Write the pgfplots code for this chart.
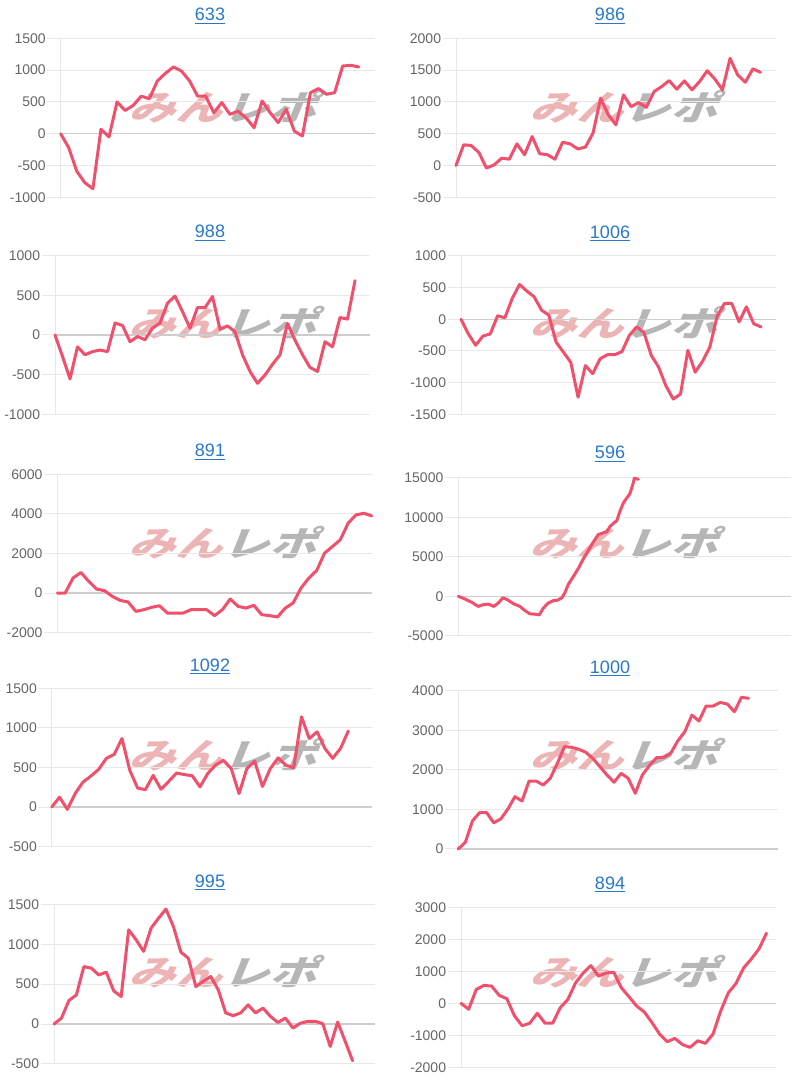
\documentclass[border=0pt]{standalone}
\usepackage{fontspec}
\setmainfont{Liberation Sans}
\newfontfamily\cjk{Noto Sans CJK JP}
\usepackage{pgfplots}
\pgfplotsset{compat=1.18}
\definecolor{linec}{RGB}{240,80,108}
\definecolor{gridc}{RGB}{232,232,232}
\definecolor{zeroc}{RGB}{205,205,205}
\definecolor{labc}{RGB}{102,102,102}
\definecolor{titc}{RGB}{40,120,205}
\definecolor{wmred}{RGB}{236,180,180}
\definecolor{wmgray}{RGB}{182,182,182}
\pgfplotsset{
  panel/.style={
    scale only axis, anchor=south west, xmin=0,
    xtick=\empty, ytick pos=left,
    ymajorgrids, grid style={draw=gridc, line width=0.75pt},
    axis line style={draw=none},
    tick align=outside, major tick length=10pt,
    ytick style={draw=gridc, line width=0.75pt},
    yticklabel style={font=\fontsize{10.5}{12}\selectfont, text=labc, inner sep=1pt},
    /pgf/number format/assume math mode=true,
    /pgf/number format/1000 sep={},
    scaled y ticks=false,
    extra y ticks={0}, extra y tick labels={},
    extra y tick style={grid style={draw=zeroc, line width=0.9pt}},
    clip=false,
  },
  ln/.style={color=linec, line width=2.25pt, line join=round, line cap=round, mark=none},
}
\newcommand{\axleft}{\draw[gridc, line width=0.75pt] (rel axis cs:0,0) -- (rel axis cs:0,1);}
\newcommand{\wm}[2]{\node[font=\cjk\bfseries\fontsize{26}{26}\selectfont, xscale=1.35, xslant=0.3, inner sep=0pt] at (#1,#2) {\textcolor{wmred}{みん}\textcolor{wmgray}{レポ}};}
\newcommand{\ttl}[3]{\node[anchor=base, font=\fontsize{13.5}{15}\selectfont, text=titc, inner sep=0pt] at (#1,#2) {\underline{#3}};}
\begin{document}
\begin{tikzpicture}
\fill[white] (0,0) rectangle (600pt,810pt);
\path[use as bounding box] (0,0) rectangle (600pt,810pt);
% watermarks
\wm{171pt}{729.75pt}\wm{471.75pt}{729.75pt}
\wm{171pt}{567.75pt}\wm{471.75pt}{567.75pt}
\wm{171pt}{402.75pt}\wm{471.75pt}{402.75pt}
\wm{171pt}{243.75pt}\wm{471.75pt}{243.75pt}
\wm{171pt}{81pt}\wm{471.75pt}{81pt}
% titles
\ttl{157.5pt}{794.4pt}{633}\ttl{457.5pt}{794.4pt}{986}
\ttl{157.5pt}{631.65pt}{988}\ttl{457.5pt}{631.3pt}{1006}
\ttl{157.5pt}{467.25pt}{891}\ttl{457.5pt}{465.75pt}{596}
\ttl{157.5pt}{306.5pt}{1092}\ttl{457.5pt}{305pt}{1000}
\ttl{157.5pt}{144.5pt}{995}\ttl{457.5pt}{143pt}{894}

% 633
\begin{axis}[panel, at={(45.5pt,662pt)}, width=235.7pt, height=119.25pt,
  xmax=39, ymin=-1000, ymax=1500, ytick={-1000,-500,0,500,1000,1500}]
\axleft
\addplot[ln] coordinates {(0,0)(1,-220)(2,-590)(3,-770)(4,-865)(5,70)(6,-50)(7,500)(8,365)(9,445)(10,590)(11,550)(12,830)(13,950)(14,1050)(15,985)(16,830)(17,590)(18,590)(19,330)(20,490)(21,305)(22,355)(23,250)(24,95)(25,515)(26,330)(27,175)(28,385)(29,40)(30,-35)(31,645)(32,710)(33,620)(34,645)(35,1065)(36,1075)(37,1050)};
\end{axis}

% 986
\begin{axis}[panel, at={(342pt,662pt)}, width=239.8pt, height=119.25pt,
  xmax=42, ymin=-500, ymax=2000, ytick={-500,0,500,1000,1500,2000}]
\axleft
\addplot[ln] coordinates {(0,0)(1,325)(2,315)(3,205)(4,-40)(5,10)(6,115)(7,100)(8,340)(9,170)(10,455)(11,185)(12,170)(13,100)(14,365)(15,340)(16,260)(17,290)(18,510)(19,1060)(20,800)(21,640)(22,1110)(23,925)(24,990)(25,915)(26,1160)(27,1240)(28,1335)(29,1200)(30,1330)(31,1190)(32,1320)(33,1490)(34,1360)(35,1190)(36,1685)(37,1425)(38,1310)(39,1520)(40,1465)};
\end{axis}

% 988
\begin{axis}[panel, at={(41.25pt,499.3pt)}, width=236.25pt, height=118.95pt,
  xmax=42, ymin=-1000, ymax=1000, ytick={-1000,-500,0,500,1000}]
\axleft
\addplot[ln] coordinates {(0,0)(1,-270)(2,-555)(3,-150)(4,-250)(5,-210)(6,-190)(7,-210)(8,150)(9,120)(10,-85)(11,-20)(12,-60)(13,85)(14,150)(15,400)(16,490)(17,295)(18,85)(19,345)(20,345)(21,485)(22,70)(23,115)(24,40)(25,-250)(26,-460)(27,-610)(28,-505)(29,-370)(30,-250)(31,145)(32,-65)(33,-250)(34,-410)(35,-460)(36,-85)(37,-150)(38,220)(39,200)(40,685)};
\end{axis}

% 1006
\begin{axis}[panel, at={(345.75pt,499.3pt)}, width=236pt, height=118.7pt,
  xmax=43, ymin=-1500, ymax=1000, ytick={-1500,-1000,-500,0,500,1000}]
\axleft
\addplot[ln] coordinates {(0,0)(1,-230)(2,-410)(3,-265)(4,-230)(5,55)(6,25)(7,330)(8,550)(9,445)(10,355)(11,145)(12,65)(13,-360)(14,-520)(15,-680)(16,-1230)(17,-730)(18,-860)(19,-625)(20,-560)(21,-560)(22,-510)(23,-255)(24,-120)(25,-210)(26,-570)(27,-755)(28,-1050)(29,-1260)(30,-1180)(31,-490)(32,-835)(33,-665)(34,-440)(35,50)(36,250)(37,250)(38,-40)(39,195)(40,-70)(41,-120)};
\end{axis}

% 891
\begin{axis}[panel, at={(43pt,335.5pt)}, width=235.8pt, height=118.8pt,
  xmax=40, ymin=-2000, ymax=6000, ytick={-2000,0,2000,4000,6000}]
\axleft
\addplot[ln] coordinates {(0,0)(1,0)(2,760)(3,1040)(4,590)(5,200)(6,120)(7,-170)(8,-370)(9,-450)(10,-925)(11,-840)(12,-720)(13,-640)(14,-1010)(15,-1010)(16,-1010)(17,-840)(18,-840)(19,-840)(20,-1140)(21,-840)(22,-300)(23,-670)(24,-760)(25,-620)(26,-1090)(27,-1140)(28,-1210)(29,-760)(30,-500)(31,250)(32,760)(33,1140)(34,2020)(35,2350)(36,2690)(37,3530)(38,3950)(39,4030)(40,3900)};
\end{axis}

% 596
\begin{axis}[panel, at={(343.7pt,333.2pt)}, width=249.5pt, height=118.5pt,
  xmax=66.5, ymin=-5000, ymax=15000, ytick={-5000,0,5000,10000,15000}]
\axleft
\addplot[ln] coordinates {(0,0)(1.3,-340)(2.7,-770)(4,-1290)(5,-1070)(6,-990)(7.1,-1290)(8,-860)(8.9,-210)(9.8,-430)(11,-940)(12.3,-1290)(13.3,-1800)(14.3,-2230)(15.3,-2270)(16.2,-2360)(17,-1500)(18,-860)(19,-560)(19.8,-515)(20.7,-210)(21.3,430)(22,1500)(23,2490)(24,3520)(25,4720)(26,5790)(27,6870)(28,7810)(29,8030)(29.7,8150)(30.3,8800)(31,9230)(31.7,9570)(32.3,10730)(33,11800)(33.7,12450)(34.3,12960)(34.9,14160)(35.2,14940)(36,14800)};
\end{axis}

% 1092
\begin{axis}[panel, at={(38.8pt,175pt)}, width=240pt, height=118.8pt,
  xmax=41, ymin=-500, ymax=1500, ytick={-500,0,500,1000,1500}]
\axleft
\addplot[ln] coordinates {(0,0)(1,125)(2,-30)(3,170)(4,315)(5,390)(6,475)(7,615)(8,665)(9,865)(10,465)(11,240)(12,220)(13,400)(14,225)(15,325)(16,430)(17,410)(18,395)(19,255)(20,425)(21,530)(22,590)(23,485)(24,170)(25,485)(26,580)(27,260)(28,485)(29,620)(30,530)(31,495)(32,1140)(33,865)(34,950)(35,740)(36,615)(37,740)(38,960)};
\end{axis}

% 1000
\begin{axis}[panel, at={(343.7pt,173.25pt)}, width=240pt, height=118.5pt,
  xmax=45.2, ymin=0, ymax=4000, ytick={0,1000,2000,3000,4000}]
\axleft
\addplot[ln] coordinates {(0,0)(1,170)(2,710)(3,920)(4,920)(5,665)(6,760)(7,1010)(8,1325)(9,1215)(10,1720)(11,1720)(12,1620)(13,1790)(14,2170)(15,2590)(16,2575)(17,2525)(18,2450)(19,2295)(20,2085)(21,1875)(22,1690)(23,1915)(24,1790)(25,1410)(26,1875)(27,2110)(28,2310)(29,2320)(30,2420)(31,2735)(32,2970)(33,3390)(34,3240)(35,3620)(36,3620)(37,3710)(38,3670)(39,3475)(40,3840)(41,3815)};
\end{axis}

% 995
\begin{axis}[panel, at={(40.5pt,12pt)}, width=240.75pt, height=119.8pt,
  xmax=43, ymin=-500, ymax=1500, ytick={-500,0,500,1000,1500}]
\axleft
\addplot[ln] coordinates {(0,0)(1,75)(2,295)(3,365)(4,720)(5,700)(6,615)(7,650)(8,415)(9,345)(10,1180)(11,1055)(12,910)(13,1200)(14,1325)(15,1440)(16,1220)(17,900)(18,825)(19,470)(20,535)(21,595)(22,430)(23,140)(24,105)(25,140)(26,240)(27,140)(28,200)(29,95)(30,20)(31,75)(32,-50)(33,10)(34,35)(35,35)(36,5)(37,-280)(38,25)(39,-215)(40,-460)};
\end{axis}

% 894
\begin{axis}[panel, at={(345.75pt,9.5pt)}, width=236pt, height=120pt,
  xmax=41.2, ymin=-2000, ymax=3000, ytick={-2000,-1000,0,1000,2000,3000}]
\axleft
\addplot[ln] coordinates {(0,0)(1,-185)(2,435)(3,560)(4,540)(5,250)(6,145)(7,-390)(8,-700)(9,-620)(10,-310)(11,-620)(12,-620)(13,-135)(14,125)(15,640)(16,950)(17,1180)(18,850)(19,950)(20,970)(21,485)(22,205)(23,-85)(24,-270)(25,-600)(26,-960)(27,-1200)(28,-1095)(29,-1290)(30,-1375)(31,-1170)(32,-1250)(33,-960)(34,-240)(35,330)(36,620)(37,1105)(38,1385)(39,1695)(40,2190)};
\end{axis}
\end{tikzpicture}
\end{document}
